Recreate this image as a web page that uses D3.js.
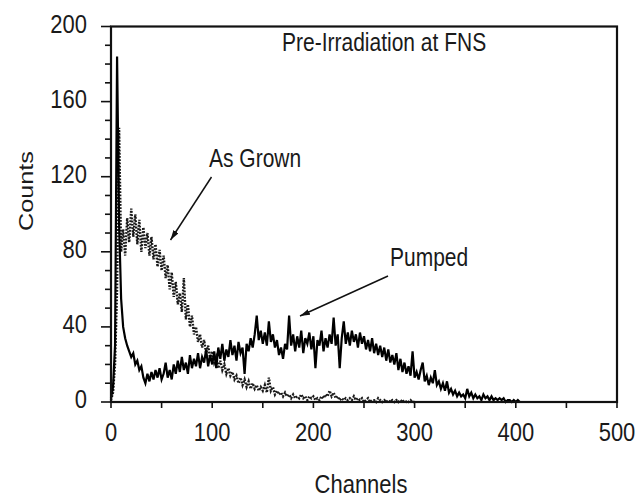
<!DOCTYPE html>
<html><head><meta charset="utf-8">
<script src="https://cdn.jsdelivr.net/npm/d3@7"></script>
<style>
html,body{margin:0;padding:0;background:#fff;}
svg{display:block;}
text{font-family:"Liberation Sans",Arial,sans-serif;fill:#1a1a1a;}
</style></head>
<body>
<svg id="c" width="639" height="499"></svg>
<script>
// ---- data (channels sampled every 2) ----
const channels = d3.range(0, 411, 2);
const pumped = [2,8,30,184,95,55,40,34,30,27,24,26,20,22,17,19,13,10,15,11,
16,12,17,13,18,12,15,21,13,17,12,20,15,22,16,24,17,21,15,25,
18,23,19,26,18,24,21,28,19,25,20,27,18,29,23,31,22,28,24,33,
25,30,22,32,26,29,15,31,27,34,29,36,46,33,38,31,37,30,43,32,
36,29,33,25,29,23,31,28,46,30,36,27,35,29,38,26,34,31,37,28,
35,18,33,30,38,27,34,29,36,31,45,30,36,18,34,43,31,37,30,38,
32,36,29,37,31,35,28,33,27,34,26,31,25,30,24,29,22,28,21,25,
20,26,17,23,16,21,15,19,14,27,13,16,12,17,21,11,14,9,13,10,
17,9,11,7,10,6,11,5,7,4,6,3,5,3,4,2,7,3,5,2,
4,2,3,1,4,2,3,1,3,1,2,1,2,1,2,0,1,1,0,1,
0,1,0,0,0,0];
const asGrown = [1,5,20,60,146,80,92,78,98,85,103,88,100,84,97,80,93,82,90,78,
88,76,84,72,81,70,78,66,73,60,69,56,64,52,58,48,66,44,52,40,
46,36,40,32,36,29,33,26,30,23,27,21,24,18,22,17,20,15,18,14,
16,12,14,10,13,9,12,8,11,7,10,7,9,6,8,6,9,5,13,6,
8,4,6,4,5,3,5,3,4,2,4,2,3,2,4,2,3,1,3,2,
3,1,2,1,3,2,4,3,6,3,5,2,3,1,2,1,2,1,2,1,
3,1,2,1,2,0,1,2,0,1,1,0,2,1,0,1,0,1,0,1,
0,1,0,1,0,1,0,0,1,0,0];
const xTicks = [0,100,200,300,400,500];
const yTicks = [0,40,80,120,160,200];

// ---- layout ----
const svg = d3.select("#c");
const L = 111, R = 617, T = 26.5, B = 402;
const x = d3.scaleLinear().domain([0,500]).range([L,R]);
const y = d3.scaleLinear().domain([0,200]).range([B,T]);
const FS = 21, VS = 1.2;

function label(txt, px, py, anchor, size){
  const g = svg.append("g").attr("transform",`translate(${px},${py}) scale(1,${VS})`);
  g.append("text").attr("text-anchor",anchor||"start").attr("font-size",(size||FS)+"px").text(txt);
}

// data lines
const line = d3.line().x(d=>x(d[0])).y(d=>y(d[1]));
svg.append("path").datum(asGrown.map((v,i)=>[channels[i],v]))
  .attr("d",line).attr("fill","none").attr("stroke","#1a1a1a")
  .attr("stroke-width",2.4).attr("stroke-dasharray","1.8,1.4");
svg.append("path").datum(pumped.map((v,i)=>[channels[i],v]))
  .attr("d",line).attr("fill","none").attr("stroke","#000")
  .attr("stroke-width",2.2).attr("stroke-linejoin","miter");

// frame
svg.append("rect").attr("x",L).attr("y",T).attr("width",R-L).attr("height",B-T)
  .attr("fill","none").attr("stroke","#111").attr("stroke-width",2.2);

// y axis ticks
const yMinor = d3.range(0,201,10);
svg.append("g").selectAll("line").data(yMinor).join("line")
  .attr("x1",d=>d%40===0?L-10:L-6).attr("x2",L).attr("y1",d=>y(d)).attr("y2",d=>y(d))
  .attr("stroke","#111").attr("stroke-width",1.6);
yTicks.forEach(v=>label(String(v), L-24, y(v)+6, "end", 22));

// x axis ticks
const xMinor = d3.range(0,501,50);
svg.append("g").selectAll("line").data(xMinor).join("line")
  .attr("x1",d=>x(d)).attr("x2",d=>x(d)).attr("y1",B).attr("y2",B+6)
  .attr("stroke","#111").attr("stroke-width",1.6);
xTicks.forEach(v=>label(String(v), x(v), 441, "middle", 22));

// axis titles
label("Channels", 361, 493, "middle", 22);
svg.append("g").attr("transform",`translate(33,191) rotate(-90) scale(${VS},1)`)
  .append("text").attr("text-anchor","middle").attr("font-size","21px").text("Counts");

// annotations
label("Pre-Irradiation at FNS", 282, 51);
label("As Grown", 209, 167);
label("Pumped", 390, 266);

// arrows
const defs = svg.append("defs");
defs.append("marker").attr("id","ah").attr("viewBox","0 0 10 6").attr("refX",10).attr("refY",3)
  .attr("markerWidth",10).attr("markerHeight",6).attr("markerUnits","userSpaceOnUse").attr("orient","auto")
  .append("path").attr("d","M0,0 L10,3 L0,6 Z").attr("fill","#111");
svg.append("line").attr("x1",211.5).attr("y1",177).attr("x2",170.5).attr("y2",240)
  .attr("stroke","#111").attr("stroke-width",1.5).attr("marker-end","url(#ah)");
svg.append("line").attr("x1",388).attr("y1",276).attr("x2",300).attr("y2",316)
  .attr("stroke","#111").attr("stroke-width",1.5).attr("marker-end","url(#ah)");
</script>
</body></html>
